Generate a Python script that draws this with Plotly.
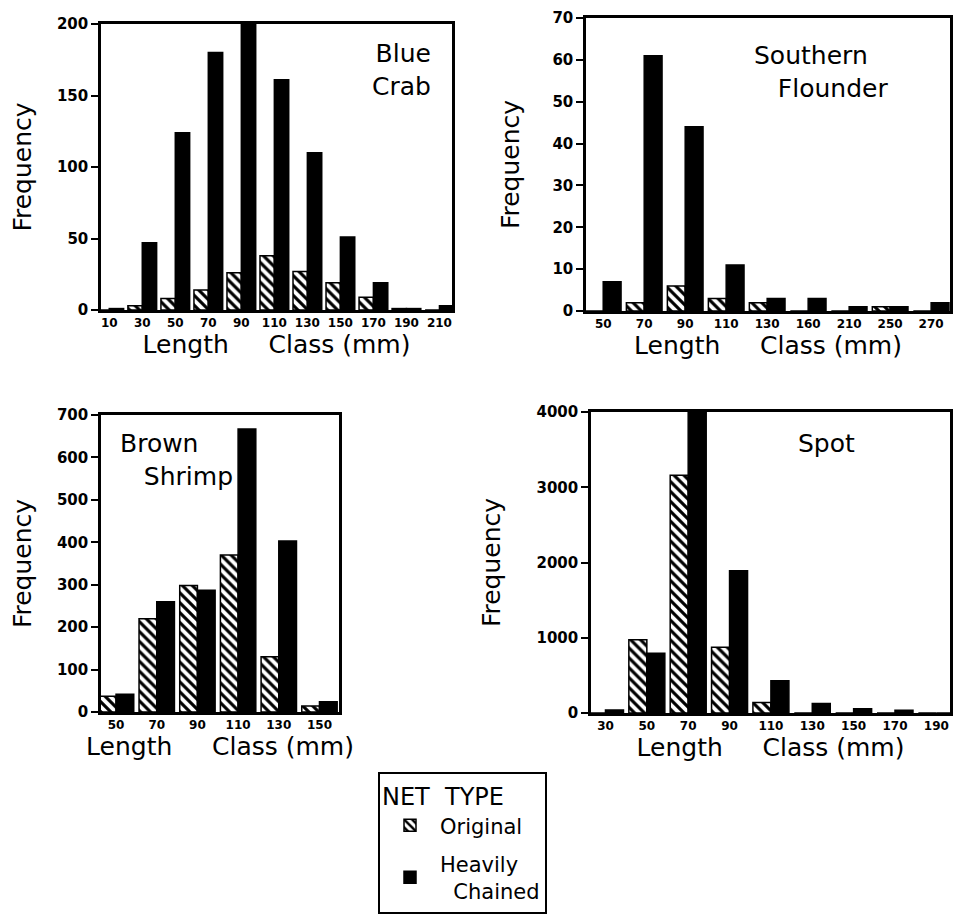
import plotly.graph_objects as go

# ---------------- data ----------------
bc_cats = ["10", "30", "50", "70", "90", "110", "130", "150", "170", "190", "210"]
bc_orig = [0, 3, 8, 14, 26, 38, 27, 19, 9, 1, 0]
bc_heavy = [1, 47, 124, 180, 200, 161, 110, 51, 19, 1, 3]

sf_cats = ["50", "70", "90", "110", "130", "160", "210", "250", "270"]
sf_orig = [0, 2, 6, 3, 2, 0, 0, 1, 0]
sf_heavy = [7, 61, 44, 11, 3, 3, 1, 1, 2]

bs_cats = ["50", "70", "90", "110", "130", "150"]
bs_orig = [37, 220, 298, 370, 130, 14]
bs_heavy = [42, 260, 287, 667, 403, 24]

sp_cats = ["30", "50", "70", "90", "110", "130", "150", "170", "190"]
sp_orig = [0, 975, 3160, 875, 140, 0, 0, 0, 0]
sp_heavy = [40, 795, 4000, 1890, 430, 125, 55, 35, 0]

species = ["Blue<br>Crab", "Southern<br>\u00a0\u00a0\u00a0Flounder", "Brown<br>\u00a0\u00a0\u00a0Shrimp", "Spot"]
y_ticks = [[0, 50, 100, 150, 200],
           [0, 10, 20, 30, 40, 50, 60, 70],
           [0, 100, 200, 300, 400, 500, 600, 700],
           [0, 1000, 2000, 3000, 4000]]
net_types = ["Original", "Heavily<br>\u00a0\u00a0Chained"]
x_title = "Length\u00a0\u00a0\u00a0\u00a0\u00a0Class (mm)"

# ---------------- layout geometry (page pixels) ----------------
OFF = 8                              # default body margin of the html page
W, H = 961 - 2 * OFF, 924 - 2 * OFF  # figure size so the page is exactly 961x924


def px(v):
    return v - OFF


panels = [
    # (left, right, top, bottom, xrange) in page pixels
    (101, 452, 24, 310, [-0.25, 10.38]),
    (586, 950, 18, 311, [-0.42, 8.46]),
    (101, 339, 415, 712, [-0.37, 5.48]),
    (591, 950, 412, 713, [-0.35, 8.33]),
]
y_standoff = [22, 26, 22, 29]
title_pos = [
    # x(domain), y(domain), xanchor, align
    (0.945, 0.955, "right", "right"),
    (0.456, 0.93, "left", "left"),
    (0.071, 0.958, "left", "left"),
    (0.657, 0.95, "center", "center"),
]

datasets = [
    (bc_cats, bc_orig, bc_heavy),
    (sf_cats, sf_orig, sf_heavy),
    (bs_cats, bs_orig, bs_heavy),
    (sp_cats, sp_orig, sp_heavy),
]

FONT = "DejaVu Sans"
fig = go.Figure()
annotations = []
layout_axes = {}

for k, ((cats, orig, heavy), (l, r, t, b, xr), yt) in enumerate(zip(datasets, panels, y_ticks)):
    n = "" if k == 0 else str(k + 1)
    xa, ya = "x" + n, "y" + n
    fig.add_trace(go.Bar(
        x=cats, y=orig, name=net_types[0], legendgroup="orig", showlegend=(k == 0),
        xaxis=xa, yaxis=ya,
        marker=dict(color="white", line=dict(color="black", width=1.5),
                    pattern=dict(shape="\\", fgcolor="black", bgcolor="white",
                                 size=7, solidity=0.45, fillmode="replace")),
    ))
    fig.add_trace(go.Bar(
        x=cats, y=heavy, name=net_types[1], legendgroup="heavy", showlegend=(k == 0),
        xaxis=xa, yaxis=ya,
        marker=dict(color="black", line=dict(color="black", width=1.5)),
    ))
    layout_axes["xaxis" + n] = dict(
        domain=[px(l) / W, px(r) / W], anchor=ya, type="category", range=xr,
        showline=True, mirror=True, linecolor="black", linewidth=2.5,
        ticks="", showgrid=False, zeroline=False, automargin=False,
        ticklabeloverflow="allow",
        tickfont=dict(family=FONT, size=12, color="black", weight="bold"),
        title=dict(text=x_title, standoff=4,
                   font=dict(family=FONT, size=25, color="black")),
    )
    layout_axes["yaxis" + n] = dict(
        domain=[1 - px(b) / H, 1 - px(t) / H], anchor=xa, range=[0, yt[-1]],
        tickvals=yt, showline=True, mirror=True, linecolor="black", linewidth=2.5,
        ticks="outside", ticklen=7, tickwidth=2, tickcolor="black",
        showgrid=False, zeroline=False, automargin=False,
        ticklabeloverflow="allow",
        tickfont=dict(family=FONT, size=15, color="black", weight="bold"),
        title=dict(text="Frequency", standoff=y_standoff[k],
                   font=dict(family=FONT, size=25, color="black")),
    )
    tx, ty, xanc, al = title_pos[k]
    annotations.append(dict(
        text=species[k], xref=xa + " domain", yref=ya + " domain",
        x=tx, y=ty, xanchor=xanc, yanchor="top", align=al, showarrow=False,
        font=dict(family=FONT, size=25, color="black"),
    ))

fig.update_layout(
    width=W, height=H,
    margin=dict(l=0, r=0, t=0, b=0),
    paper_bgcolor="white", plot_bgcolor="white",
    barmode="group", bargap=0.13, bargroupgap=0.0,
    annotations=annotations,
    showlegend=True,
    legend=dict(
        x=px(378) / W, y=1 - px(772) / H, xanchor="left", yanchor="top",
        bordercolor="black", borderwidth=2, bgcolor="white",
        title=dict(text="NET\u00a0\u00a0TYPE", side="top",
                   font=dict(family=FONT, size=24, color="black")),
        font=dict(family=FONT, size=21, color="black"),
        itemwidth=50, tracegroupgap=8,
    ),
    **layout_axes,
)

fig.write_html("out.html")
